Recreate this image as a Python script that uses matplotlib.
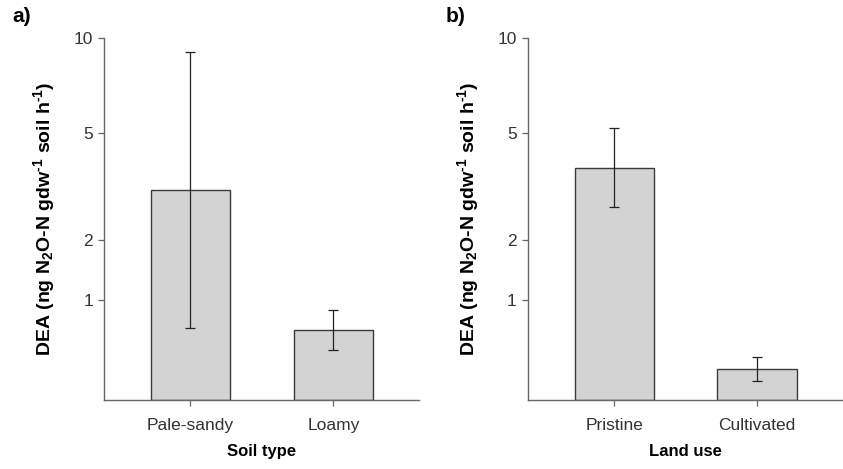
import numpy as np
import matplotlib
matplotlib.use("Agg")
from matplotlib import pyplot as plt

plt.rcParams['font.family'] = ['Liberation Sans', 'DejaVu Sans']
plt.rcParams['mathtext.fontset'] = 'custom'
plt.rcParams['mathtext.rm'] = 'Liberation Sans:bold'
plt.rcParams['mathtext.bf'] = 'Liberation Sans:bold'
plt.rcParams['mathtext.default'] = 'rm'

# panel a - soil type
soil = ['Pale-sandy', 'Loamy']
soil_mean = np.array([3.15, 0.63])
soil_low = np.array([0.66, 0.42])
soil_high = np.array([9.1, 0.87])

# panel b - land use
land = ['Pristine', 'Cultivated']
land_mean = np.array([3.78, 0.245])
land_low = np.array([2.72, 0.146])
land_high = np.array([5.2, 0.36])

yticks = [1, 2, 5, 10]
ylabel = r'DEA (ng N$_{2}$O-N gdw$^{\text{-1}}$ soil h$^{\text{-1}}$)'

# y axis of the original is log(y + c)
c = 1.15
def fwd(y):
    return np.log10(1 + np.maximum(y, 0) / c)

def inv(u):
    return c * (10 ** u - 1)

fig = plt.figure(figsize=(8.43, 4.69), dpi=100)
ax_a = fig.add_axes([0.1234, 0.1471, 0.3737, 0.7712])
ax_b = fig.add_axes([0.626, 0.1471, 0.3737, 0.7712])

spine_col = '#666666'

def panel(ax, cats, mean, low, high, xlab, tag, tagx):
    x = np.arange(len(cats))
    ax.set_yscale('function', functions=(fwd, inv))
    ax.bar(x, mean, width=0.555, color='#d3d3d3', edgecolor='#3a3a3a', linewidth=1.0, zorder=2)
    ax.errorbar(x, mean, yerr=[mean - low, high - mean], fmt='none', ecolor='#222222',
                elinewidth=0.9, capsize=3.6, capthick=0.9, zorder=3)
    ax.set_ylim(0, 10)
    ax.set_xlim(-0.605, 1.6)
    ax.set_yticks(yticks)
    ax.set_yticklabels([str(t) for t in yticks])
    ax.yaxis.set_minor_locator(matplotlib.ticker.NullLocator())
    ax.set_xticks(x)
    ax.set_xticklabels(cats)
    for s in ['top', 'right']:
        ax.spines[s].set_visible(False)
    for s in ['left', 'bottom']:
        ax.spines[s].set_color(spine_col)
        ax.spines[s].set_linewidth(1.0)
    ax.tick_params(axis='both', direction='out', length=4, width=0.9, color=spine_col,
                   labelsize=12.5, labelcolor='#333333')
    ax.tick_params(axis='y', pad=4)
    ax.tick_params(axis='x', pad=9)
    ax.set_xlabel(xlab, fontsize=12, fontweight='bold', labelpad=8)
    ax.set_ylabel(ylabel, fontsize=14, fontweight='bold', labelpad=12)
    fig.text(tagx, 1 - 17 / 469, tag, fontsize=15, fontweight='bold', va='center', ha='left')

panel(ax_a, soil, soil_mean, soil_low, soil_high, 'Soil type', 'a)', 12 / 843)
panel(ax_b, land, land_mean, land_low, land_high, 'Land use', 'b)', 446 / 843)

fig.savefig('out.png', dpi=100)
